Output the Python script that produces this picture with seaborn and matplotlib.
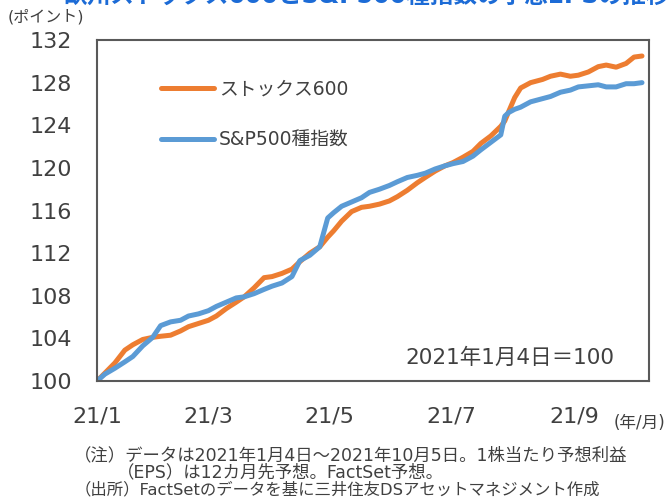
import matplotlib
matplotlib.use("Agg")
import matplotlib.pyplot as plt
import seaborn as sns
import pandas as pd

# data (2021-01-04 = 100)
dates = ["2021-01-04", "2021-01-08", "2021-01-13", "2021-01-18", "2021-01-22", "2021-01-27",
         "2021-02-01", "2021-02-05", "2021-02-10", "2021-02-15", "2021-02-19", "2021-02-24",
         "2021-03-01", "2021-03-05", "2021-03-10", "2021-03-15", "2021-03-19", "2021-03-24",
         "2021-03-29", "2021-04-02", "2021-04-07", "2021-04-12", "2021-04-16", "2021-04-21",
         "2021-04-26", "2021-04-30", "2021-05-03", "2021-05-07", "2021-05-12", "2021-05-17",
         "2021-05-21", "2021-05-26", "2021-05-31", "2021-06-04", "2021-06-09", "2021-06-14",
         "2021-06-18", "2021-06-23", "2021-06-28", "2021-07-02", "2021-07-07", "2021-07-12",
         "2021-07-16", "2021-07-21", "2021-07-26", "2021-07-28", "2021-07-30", "2021-08-02",
         "2021-08-05", "2021-08-10", "2021-08-16", "2021-08-20", "2021-08-25", "2021-08-30",
         "2021-09-03", "2021-09-08", "2021-09-13", "2021-09-17", "2021-09-22", "2021-09-27",
         "2021-10-01", "2021-10-05"]
stoxx600 = [100.0, 100.75, 101.7, 102.9, 103.4, 103.9,
            104.1, 104.2, 104.3, 104.7, 105.1, 105.4,
            105.7, 106.1, 106.8, 107.4, 107.9, 108.75,
            109.7, 109.8, 110.1, 110.5, 111.2, 112.0,
            112.6, 113.5, 114.1, 115.0, 115.9, 116.3,
            116.4, 116.6, 116.9, 117.3, 117.9, 118.6,
            119.1, 119.7, 120.2, 120.5, 121.0, 121.55,
            122.3, 123.0, 123.9, 124.4, 125.3, 126.6,
            127.5, 128.0, 128.3, 128.6, 128.8, 128.6,
            128.7, 129.0, 129.5, 129.65, 129.45, 129.8,
            130.4, 130.5]
sp500 = [100.0, 100.65, 101.2, 101.8, 102.3, 103.3,
         104.1, 105.2, 105.55, 105.7, 106.1, 106.3,
         106.6, 107.0, 107.4, 107.8, 107.9, 108.2,
         108.6, 108.9, 109.2, 109.8, 111.3, 111.8,
         112.6, 115.3, 115.8, 116.4, 116.8, 117.2,
         117.7, 118.0, 118.35, 118.7, 119.1, 119.3,
         119.5, 119.9, 120.2, 120.4, 120.6, 121.1,
         121.7, 122.4, 123.1, 124.85, 125.2, 125.5,
         125.7, 126.2, 126.5, 126.7, 127.1, 127.3,
         127.6, 127.7, 127.8, 127.6, 127.6, 127.9,
         127.9, 128.0]
tick_dates = ["2021-01-04", "2021-03-01", "2021-05-01", "2021-07-01", "2021-09-01"]
tick_labels = ["21/1", "21/3", "21/5", "21/7", "21/9"]
y_ticks = list(range(100, 133, 4))

sns.set_style("white")
plt.rcParams["font.family"] = ["DejaVu Sans", "Noto Sans CJK JP"]
grey = "#404040"

df = pd.DataFrame({"date": pd.to_datetime(dates), "stoxx": stoxx600, "sp": sp500})

fig = plt.figure(figsize=(6.68, 5.04), dpi=100)
ax = fig.add_axes([0.1452, 0.244, 0.8263, 0.6766])

sns.lineplot(data=df, x="date", y="stoxx", color="#ED7D31", lw=3.6,
             label="ストックス600", ax=ax, solid_capstyle="round")
sns.lineplot(data=df, x="date", y="sp", color="#5B9BD5", lw=3.6,
             label="S&P500種指数", ax=ax, solid_capstyle="round")

ax.set_ylim(100, 132)
ax.set_yticks(y_ticks)
ax.set_xlim(pd.Timestamp("2021-01-04"), pd.Timestamp("2021-10-08 12:00"))
ax.set_xticks(pd.to_datetime(tick_dates))
ax.set_xticklabels(tick_labels)
ax.set_xlabel("")
ax.set_ylabel("")
for s in ax.spines.values():
    s.set_visible(True)
    s.set_color("#595959")
    s.set_linewidth(1.5)
ax.tick_params(axis="both", direction="in", length=5, width=1.5, color="#595959",
               labelsize=16, labelcolor=grey)
ax.tick_params(axis="y", pad=18)
ax.tick_params(axis="x", pad=18)

leg = ax.legend(loc="upper left", bbox_to_anchor=(0.116, 0.885), frameon=False,
                fontsize=13.5, handlelength=2.8, handletextpad=0.3,
                labelspacing=1.75, borderaxespad=0, borderpad=0)
for t in leg.get_texts():
    t.set_color(grey)

ax.text(0.937, 0.068, "2021年1月4日＝100", transform=ax.transAxes, ha="right",
        va="center", fontsize=15.5, color=grey)

# title, cut off at the top edge as in the original
fig.text(0.095, 1 - 3 / 504, "欧州ストックス600とS&P500種指数の予想EPSの推移",
         ha="left", va="baseline", fontsize=17, fontweight="bold", color="#1C6BD6")

fig.text(8 / 668, 1 - 17 / 504, "(ポイント)", ha="left", va="center", fontsize=11.5, color=grey)
fig.text(665 / 668, 1 - 423 / 504, "(年/月)", ha="right", va="center", fontsize=12, color=grey)

fig.text(74 / 668, 1 - 455 / 504, "（注）データは2021年1月4日～2021年10月5日。1株当たり予想利益",
         ha="left", va="center", fontsize=12.5, color=grey)
fig.text(117 / 668, 1 - 472 / 504, "（EPS）は12カ月先予想。FactSet予想。",
         ha="left", va="center", fontsize=12.5, color=grey)
fig.text(75 / 668, 1 - 490 / 504, "（出所）FactSetのデータを基に三井住友DSアセットマネジメント作成",
         ha="left", va="center", fontsize=11.8, color=grey)

fig.savefig("out.png", dpi=100)
